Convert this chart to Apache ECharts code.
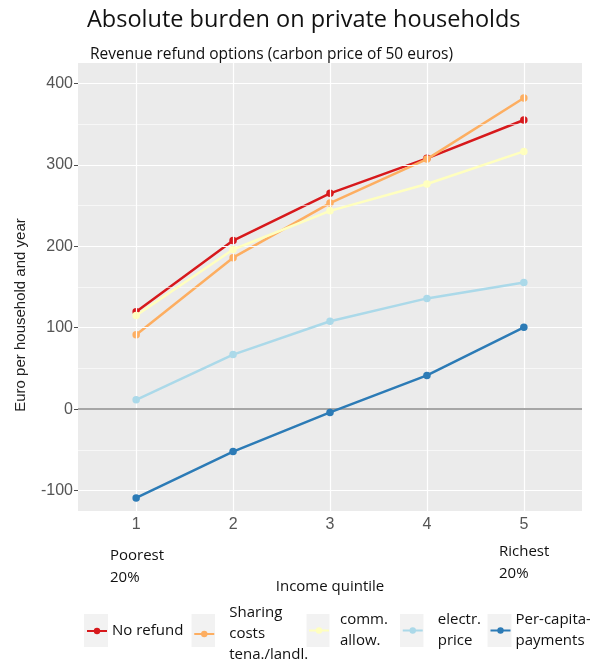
<!DOCTYPE html>
<html>
<head>
<meta charset="utf-8">
<script src="https://cdn.jsdelivr.net/npm/echarts@6/dist/echarts.min.js"></script>
<style>html,body{margin:0;padding:0;background:#fff}#c{width:590px;height:665px}</style>
</head>
<body>
<div id="c"></div>
<script>
const quintiles = [1, 2, 3, 4, 5];
const noRefund = [119.5, 207, 265, 308, 355];
const sharingCosts = [91.5, 186, 253, 307, 382];
const commAllow = [115, 196, 243.5, 276.5, 316.5];
const electrPrice = [11.5, 67, 108, 136, 155.5];
const perCapita = [-109, -52, -4, 41.5, 100.5];
const yTicks = [-100, 0, 100, 200, 300, 400];
const yMinorTicks = [-50, 50, 150, 250, 350];
const xTicks = [1, 2, 3, 4, 5];
const seriesNames = ['No refund', 'Sharing\ncosts\ntena./landl.', 'comm.\nallow.', 'electr.\nprice', 'Per-capita-\npayments'];
const seriesColors = ['#d7191c', '#fdae61', '#ffffbf', '#abd9e9', '#2c7bb6'];
const seriesValues = [noRefund, sharingCosts, commAllow, electrPrice, perCapita];

const chart = echarts.init(document.getElementById('c'), null, {renderer: 'canvas'});
const SEG = '"Open Sans", "Noto Sans", sans-serif';
const ARIAL = '"Liberation Sans", Arial, sans-serif';

const gridLines = [];
yMinorTicks.forEach(v => gridLines.push({yAxis: v, lineStyle: {color: '#ffffff', width: 0.6, type: 'solid'}}));
yTicks.forEach(v => gridLines.push({yAxis: v, lineStyle: {color: '#ffffff', width: 1.2, type: 'solid'}}));
xTicks.forEach(v => gridLines.push({xAxis: v, lineStyle: {color: '#ffffff', width: 1.2, type: 'solid'}}));
gridLines.push({yAxis: 0, lineStyle: {color: '#a6a6a6', width: 2, type: 'solid'}});

const series = [{
  type: 'line', name: '__grid', data: [], z: 1, silent: true,
  markLine: {silent: true, symbol: ['none', 'none'], label: {show: false}, animation: false, data: gridLines}
}];
seriesNames.forEach((n, i) => {
  series.push({
    type: 'line', name: n, z: 3 + i,
    data: quintiles.map((q, j) => [q, seriesValues[i][j]]),
    color: seriesColors[i],
    lineStyle: {width: 2.5, color: seriesColors[i]},
    itemStyle: {color: seriesColors[i]},
    symbol: 'circle', symbolSize: 7.5, showSymbol: true
  });
});

const legendBoxes = [
  {x: 84, w: 24, top: 620.5, pad: 0},
  {x: 191.5, w: 23.5, top: 602.5, pad: 10},
  {x: 306.5, w: 23, top: 609.5, pad: 6},
  {x: 400, w: 23.5, top: 609.5, pad: 10},
  {x: 487.5, w: 24, top: 609.5, pad: 0}
];
const legends = seriesNames.map((n, i) => ({
  data: [n], left: legendBoxes[i].x + (legendBoxes[i].w - 20) / 2, top: legendBoxes[i].top, padding: 0,
  itemWidth: 20, itemHeight: 8, selectedMode: false,
  textStyle: {fontFamily: SEG, fontSize: 15, color: '#111', lineHeight: 21, padding: [0, 0, 0, legendBoxes[i].pad]}
}));

const option = {
  animation: false,
  backgroundColor: '#ffffff',
  title: [
    {text: 'Absolute burden on private households', left: 82, top: 3,
     textStyle: {fontFamily: SEG, fontSize: 23.5, fontWeight: 'normal', color: '#111'}},
    {text: 'Revenue refund options (carbon price of 50 euros)', left: 85, top: 42,
     textStyle: {fontFamily: SEG, fontSize: 15.5, fontWeight: 'normal', color: '#111'}}
  ],
  grid: {left: 78, right: 8, top: 63, bottom: 154, show: true, backgroundColor: '#ebebeb', borderWidth: 0},
  xAxis: {
    type: 'value', min: 0.4, max: 5.6,
    name: 'Income quintile', nameLocation: 'middle', nameGap: 68,
    nameTextStyle: {fontFamily: SEG, fontSize: 15, color: '#111'},
    axisLine: {show: false},
    axisTick: {show: true, length: 4, customValues: xTicks, lineStyle: {color: '#4d4d4d', width: 1}},
    axisLabel: {customValues: xTicks, fontFamily: ARIAL, fontSize: 16, color: '#555', margin: 6},
    splitLine: {show: false}
  },
  yAxis: {
    type: 'value', min: -125, max: 425,
    axisLine: {show: false},
    axisTick: {show: true, length: 4, customValues: yTicks, lineStyle: {color: '#4d4d4d', width: 1}},
    axisLabel: {customValues: yTicks, fontFamily: ARIAL, fontSize: 16, color: '#555', margin: 5},
    splitLine: {show: false}
  },
  legend: legends,
  graphic: [
    ...legendBoxes.map(b => ({type: 'rect', z: 0, silent: true, shape: {x: b.x, y: 614, width: b.w, height: 33}, style: {fill: '#f2f2f2'}})),
    {type: 'text', left: 110, top: 545, silent: true,
     style: {text: 'Poorest\n20%', fontFamily: SEG, fontSize: 15, lineHeight: 22, fill: '#111'}},
    {type: 'text', left: 499, top: 541, silent: true,
     style: {text: 'Richest\n20%', fontFamily: SEG, fontSize: 15, lineHeight: 22, fill: '#111'}},
    {type: 'text', x: 21, y: 315, rotation: Math.PI / 2, silent: true,
     style: {text: 'Euro per household and year', fontFamily: ARIAL, fontSize: 15, fill: '#222', align: 'center', verticalAlign: 'middle'}}
  ],
  series: series
};
chart.setOption(option);
</script>
</body>
</html>
